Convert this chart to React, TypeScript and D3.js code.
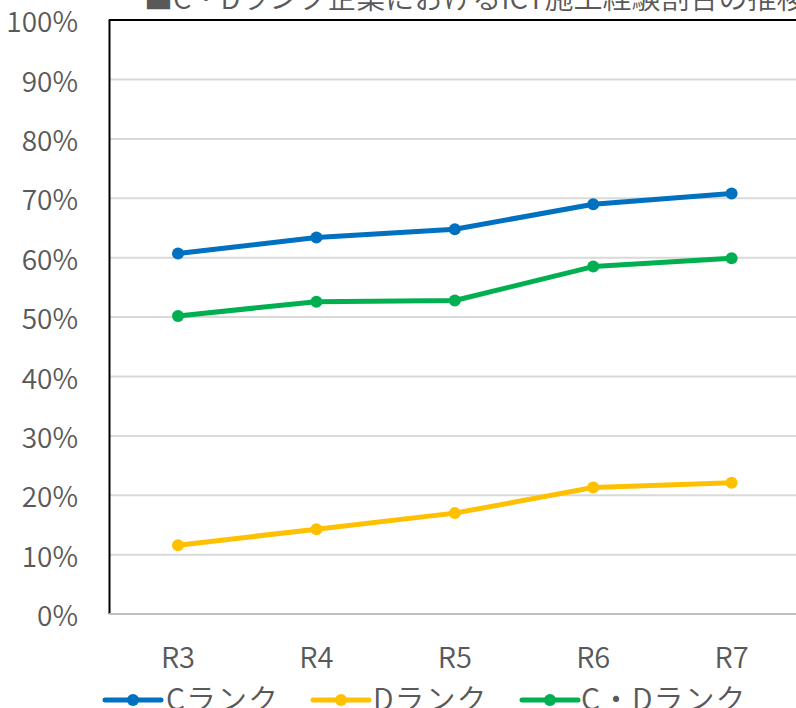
import React from "react";
import * as d3 from "d3";

const categories = ["R3", "R4", "R5", "R6", "R7"];
const seriesNames = ["Cランク", "Dランク", "C・Dランク"];
const cRank = [0.607, 0.634, 0.648, 0.69, 0.708];
const dRank = [0.116, 0.143, 0.17, 0.213, 0.221];
const cdRank = [0.502, 0.526, 0.528, 0.585, 0.599];
const seriesColors = ["#0070C0", "#FFC000", "#00B050"];
const yTicks = [0, 0.1, 0.2, 0.3, 0.4, 0.5, 0.6, 0.7, 0.8, 0.9, 1.0];
const title = "■C・Dランク企業におけるICT施工経験割合の推移";

const W = 796;
const H = 708;
const FONT = "'Noto Sans CJK JP', 'Noto Sans', sans-serif";
const TEXT = "#595959";

export default function App() {
  const x = d3.scaleBand<string>().domain(categories).range([108.8, 800.8]);
  const y = d3.scaleLinear().domain([0, 1]).range([614.1, 20.1]);
  const cx = (c: string) => (x(c) ?? 0) + x.bandwidth() / 2;
  const series = [cRank, dRank, cdRank];
  const line = d3
    .line<number>()
    .x((_, i) => cx(categories[i]))
    .y((v) => y(v));
  const fmt = d3.format(".0%");

  // legend entries: marker line start and label start
  const legendItems = [
    { lx: 105, tx: 166 },
    { lx: 313, tx: 373 },
    { lx: 522, tx: 581 },
  ];

  return (
    <svg
      width={W}
      height={H}
      style={{ position: "absolute", left: 0, top: 0, display: "block", background: "#fff" }}
      fontFamily={FONT}
      fontWeight={350}
    >
      <rect width={W} height={H} fill="#fff" />
      {/* gridlines */}
      {yTicks.slice(1, -1).map((t) => (
        <line key={t} x1={108.8} x2={W} y1={y(t)} y2={y(t)} stroke="#d9d9d9" strokeWidth={2} />
      ))}
      {/* plot frame: top and left */}
      <line x1={108.8} x2={W} y1={y(1)} y2={y(1)} stroke="#000" strokeWidth={2} />
      <line x1={109.5} x2={109.5} y1={y(1)} y2={y(0)} stroke="#000" strokeWidth={2} />
      {/* category axis */}
      <line x1={108.8} x2={W} y1={y(0)} y2={y(0)} stroke="#bfbfbf" strokeWidth={2} />

      {/* y tick labels */}
      {yTicks.map((t) => (
        <text
          key={t}
          x={78}
          y={y(t)}
          textAnchor="end"
          dominantBaseline="central"
          fontSize={28}
          fill={TEXT}
        >
          {fmt(t)}
        </text>
      ))}
      {/* x tick labels */}
      {categories.map((c) => (
        <text key={c} x={cx(c)} y={655} textAnchor="middle" dominantBaseline="central" fontSize={29} fill={TEXT}>
          {c}
        </text>
      ))}

      {/* series */}
      {series.map((vals, si) => (
        <g key={si}>
          <path d={line(vals) ?? ""} fill="none" stroke={seriesColors[si]} strokeWidth={5} strokeLinejoin="round" />
          {vals.map((v, i) => (
            <circle key={i} cx={cx(categories[i])} cy={y(v)} r={6} fill={seriesColors[si]} />
          ))}
        </g>
      ))}

      {/* title */}
      <text x={144} y={9} fontSize={29} fill={TEXT}>
        {title}
      </text>

      {/* legend */}
      {legendItems.map((it, i) => (
        <g key={i}>
          <line x1={it.lx} x2={it.lx + 56} y1={700} y2={700} stroke={seriesColors[i]} strokeWidth={5} strokeLinecap="round" />
          <circle cx={it.lx + 28} cy={700} r={6} fill={seriesColors[i]} />
          <text x={it.tx} y={697} dominantBaseline="central" fontSize={30} letterSpacing={1} fill={TEXT}>
            {seriesNames[i]}
          </text>
        </g>
      ))}
    </svg>
  );
}
